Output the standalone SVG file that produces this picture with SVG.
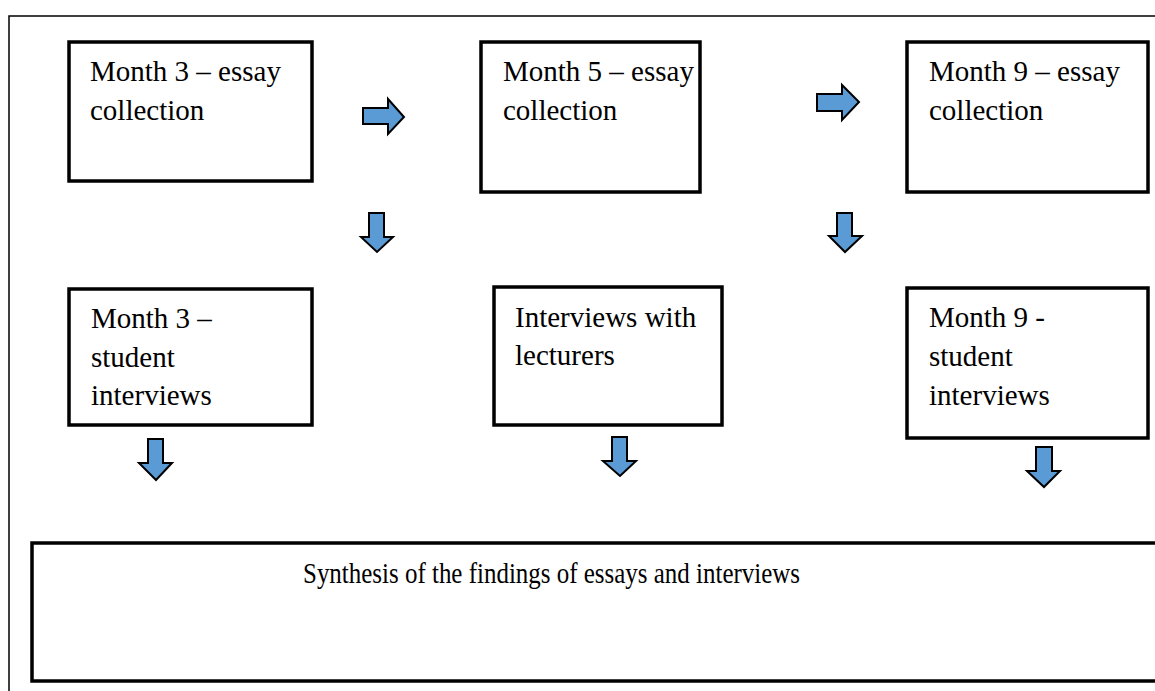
<svg xmlns="http://www.w3.org/2000/svg" width="1155" height="691" viewBox="0 0 1155 691">
<style>
.box{fill:#fff;stroke:#000;stroke-width:3.5}
.frame{fill:none;stroke:#000;stroke-width:1.5}
.arr{fill:#5B9BD5;stroke:#000;stroke-width:2;stroke-linejoin:miter}
text{font-family:"Liberation Serif","Times New Roman",serif;font-size:29px;fill:#000}
</style>
<rect width="1155" height="691" fill="#fff"/>
<rect class="frame" x="9" y="16" width="1160" height="690"/>
<g id="n1"><rect class="box" x="69" y="42" width="243" height="139"/><text x="90" y="81">Month 3 – essay</text><text x="90" y="120">collection</text></g>
<g id="n2"><rect class="box" x="481" y="42" width="219" height="150"/><text x="503" y="81">Month 5 – essay</text><text x="503" y="120">collection</text></g>
<g id="n3"><rect class="box" x="907" y="42" width="241" height="150"/><text x="929" y="81">Month 9 – essay</text><text x="929" y="120">collection</text></g>
<g id="n4"><rect class="box" x="69" y="289" width="243" height="136"/><text x="91" y="328">Month 3 –</text><text x="91" y="367">student</text><text x="91" y="405">interviews</text></g>
<g id="n5"><rect class="box" x="494" y="287" width="228" height="138"/><text x="515" y="327">Interviews with</text><text x="515" y="365">lecturers</text></g>
<g id="n6"><rect class="box" x="907" y="288" width="241" height="150"/><text x="929" y="327">Month 9 -</text><text x="929" y="366">student</text><text x="929" y="405">interviews</text></g>
<g id="n7"><rect class="box" x="32" y="543" width="1140" height="138"/><text x="303" y="583" font-size="28" textLength="497" lengthAdjust="spacingAndGlyphs">Synthesis of the findings of essays and interviews</text></g>
<g id="connectors">
<path class="arr" d="M363,108 H388 V99 L404,117 L388,134 V124 H363 Z"/>
<path class="arr" d="M817,94 H842 V85 L859,102 L842,120 V111 H817 Z"/>
<path class="arr" d="M369,213 H384 V237 H393 L377,252 L361,237 H369 Z"/>
<path class="arr" d="M837,213 H852 V236 H862 L845,252 L829,236 H837 Z"/>
<path class="arr" d="M148,439 H163 V463 H172 L156,480 L139,463 H148 Z"/>
<path class="arr" d="M612,437 H627 V461 H636 L620,476 L603,461 H612 Z"/>
<path class="arr" d="M1036,447 H1052 V471 H1060 L1044,487 L1027,471 H1036 Z"/>
</g>
</svg>
